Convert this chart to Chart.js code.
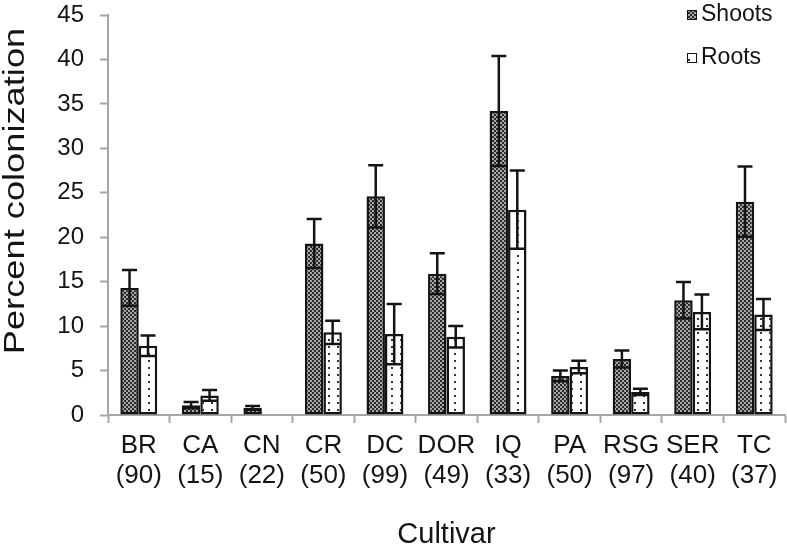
<!DOCTYPE html>
<html lang="en">
<head>
    <meta charset="UTF-8">
    <title>Percent colonization by cultivar</title>
    <script src="https://cdn.jsdelivr.net/npm/chart.js"></script>
    <style>
        body { margin: 0; background: #ffffff; }
        .chart-box { width: 787px; height: 552px; position: relative; }
    </style>
</head>
<body>
    <div class="chart-box">
        <canvas id="colonChart"></canvas>
    </div>

    <script>
        // Data
        const cultivars = ['BR', 'CA', 'CN', 'CR', 'DC', 'DOR', 'IQ', 'PA', 'RSG', 'SER', 'TC'];
        const sampleSizes = ['(90)', '(15)', '(22)', '(50)', '(99)', '(49)', '(33)', '(50)', '(97)', '(40)', '(37)'];
        const shoots = [14.3, 1.1, 0.8, 19.3, 24.6, 15.9, 34.2, 4.4, 6.3, 12.9, 24.0];
        const shootsErr = [2.0, 0.35, 0.2, 2.75, 3.5, 2.3, 6.2, 0.6, 0.95, 2.05, 3.95];
        const roots = [7.8, 2.2, null, 9.3, 9.1, 8.8, 23.1, 5.4, 2.6, 11.6, 11.3];
        const rootsErr = [1.15, 0.6, null, 1.3, 3.4, 1.2, 4.4, 0.7, 0.35, 1.95, 1.75];
        const yTicks = [0, 5, 10, 15, 20, 25, 30, 35, 40, 45];

        const axisGray = '#a6a6a6';
        const ink = '#141414';
        const fontFamily = '"Liberation Sans", Arial, sans-serif';

        // Fill patterns
        function makeShootsPattern(ctx) {
            const c = document.createElement('canvas');
            c.width = 4; c.height = 4;
            const p = c.getContext('2d');
            p.fillStyle = '#a8a8a8';
            p.fillRect(0, 0, 4, 4);
            p.fillStyle = '#2a2a2a';
            p.fillRect(0, 0, 2, 2);
            p.fillRect(2, 2, 2, 2);
            return ctx.createPattern(c, 'repeat');
        }

        function makeRootsPattern(ctx) {
            const c = document.createElement('canvas');
            c.width = 9; c.height = 7;
            const p = c.getContext('2d');
            p.fillStyle = '#ffffff';
            p.fillRect(0, 0, 9, 7);
            p.fillStyle = '#333333';
            p.fillRect(4, 3, 2, 2);
            return ctx.createPattern(c, 'repeat');
        }

        // Symmetric error bars with caps
        const errorBars = {
            id: 'errorBars',
            afterDatasetsDraw(chart) {
                const ctx = chart.ctx;
                const y = chart.scales.y;
                const errs = [shootsErr, rootsErr];
                ctx.save();
                ctx.strokeStyle = ink;
                ctx.lineWidth = 2.5;
                chart.data.datasets.forEach((ds, i) => {
                    const meta = chart.getDatasetMeta(i);
                    meta.data.forEach((bar, j) => {
                        const v = ds.data[j];
                        const e = errs[i][j];
                        if (v == null || e == null) return;
                        const top = y.getPixelForValue(v + e);
                        const bot = y.getPixelForValue(Math.max(0, v - e));
                        const x = bar.x;
                        ctx.beginPath();
                        ctx.moveTo(x, top);
                        ctx.lineTo(x, bot);
                        ctx.moveTo(x - 7.5, top);
                        ctx.lineTo(x + 7.5, top);
                        ctx.moveTo(x - 7.5, bot);
                        ctx.lineTo(x + 7.5, bot);
                        ctx.stroke();
                    });
                });
                ctx.restore();
            }
        };

        // Legend and stretched y title
        const extras = {
            id: 'extras',
            afterDraw(chart) {
                const ctx = chart.ctx;
                ctx.save();
                const items = [
                    { label: 'Shoots', fill: chart.data.datasets[0].backgroundColor, y: 15 },
                    { label: 'Roots', fill: chart.data.datasets[1].backgroundColor, y: 58 }
                ];
                ctx.font = '23px ' + fontFamily;
                ctx.textBaseline = 'middle';
                items.forEach(it => {
                    ctx.fillStyle = it.fill;
                    ctx.fillRect(687, it.y - 5, 10, 10);
                    ctx.strokeStyle = ink;
                    ctx.lineWidth = 1;
                    ctx.strokeRect(687.5, it.y - 4.5, 9, 9);
                    ctx.fillStyle = ink;
                    ctx.textAlign = 'left';
                    ctx.fillText(it.label, 701, it.y);
                });

                ctx.translate(16, 191);
                ctx.rotate(-Math.PI / 2);
                ctx.scale(1.25, 1);
                ctx.font = '29px ' + fontFamily;
                ctx.textAlign = 'center';
                ctx.fillStyle = ink;
                ctx.fillText('Percent colonization', 0, 0);
                ctx.restore();
            }
        };

        function initializeChart() {
            const ctx = document.getElementById('colonChart').getContext('2d');
            window.colonChart = new Chart(ctx, {
                type: 'bar',
                data: {
                    labels: cultivars.map((c, i) => [c, sampleSizes[i]]),
                    datasets: [{
                        label: 'Shoots',
                        data: shoots,
                        backgroundColor: makeShootsPattern(ctx),
                        borderColor: ink,
                        borderWidth: 2.5,
                        borderSkipped: false
                    },
                    {
                        label: 'Roots',
                        data: roots,
                        backgroundColor: makeRootsPattern(ctx),
                        borderColor: ink,
                        borderWidth: 2.5,
                        borderSkipped: false
                    }]
                },
                options: {
                    responsive: true,
                    maintainAspectRatio: false,
                    animation: false,
                    layout: { padding: { top: 0, right: 2, left: 0, bottom: 0 } },
                    datasets: {
                        bar: { categoryPercentage: 0.6, barPercentage: 1.0 }
                    },
                    plugins: {
                        legend: { display: false },
                        tooltip: { enabled: false }
                    },
                    scales: {
                        x: {
                            grid: {
                                display: true,
                                drawOnChartArea: false,
                                drawTicks: true,
                                tickLength: 8,
                                tickWidth: 2,
                                color: axisGray,
                                offset: true
                            },
                            border: { color: axisGray, width: 2 },
                            ticks: {
                                color: ink,
                                padding: 8,
                                maxRotation: 0,
                                autoSkip: false,
                                font: { family: fontFamily, size: 26, lineHeight: 1.15 }
                            },
                            title: {
                                display: true,
                                text: 'Cultivar',
                                color: ink,
                                padding: { top: 0, bottom: 0 },
                                font: { family: fontFamily, size: 29 }
                            },
                            afterFit(scale) { scale.height = 137; }
                        },
                        y: {
                            min: 0,
                            max: 45,
                            afterBuildTicks(scale) {
                                scale.ticks = yTicks.map(v => ({ value: v }));
                            },
                            grid: {
                                display: true,
                                drawOnChartArea: false,
                                drawTicks: true,
                                tickLength: 8,
                                tickWidth: 2,
                                color: axisGray
                            },
                            border: { color: axisGray, width: 2 },
                            ticks: {
                                color: ink,
                                padding: 16,
                                font: { family: fontFamily, size: 24 }
                            },
                            afterFit(scale) {
                                scale.width = 108;
                                scale.paddingTop = 15;
                                scale.paddingBottom = 2;
                            }
                        }
                    }
                },
                plugins: [errorBars, extras]
            });
        }

        initializeChart();
    </script>
</body>
</html>
